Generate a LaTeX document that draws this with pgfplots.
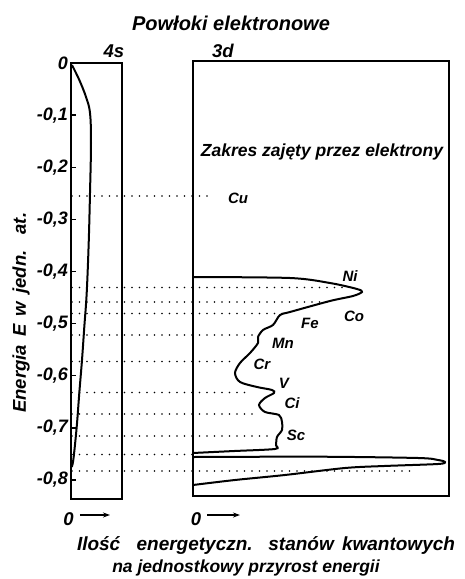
\documentclass[border=0pt]{standalone}
\usepackage{pgfplots}
\pgfplotsset{compat=1.18}
\usepackage{fontspec}
\setmainfont{Liberation Sans}
\usetikzlibrary{arrows.meta}
\newcommand{\fs}[1]{\fontsize{#1}{#1}\selectfont\bfseries\itshape}
\begin{document}
\begin{tikzpicture}[x=1pt,y=1pt]
\useasboundingbox (0,0) rectangle (464,579);
% ---------------- left panel: 4s ----------------
\begin{axis}[
  at={(71pt,80pt)}, anchor=south west,
  width=51pt, height=436pt, scale only axis,
  xmin=0, xmax=51, ymin=-0.8365, ymax=0,
  axis line style={line width=1.3pt},
  clip=false,
  ytick={0,-0.1,-0.2,-0.3,-0.4,-0.5,-0.6,-0.7,-0.8},
  yticklabels={{0},{-0,1},{-0,2},{-0,3},{-0,4},{-0,5},{-0,6},{-0,7},{-0,8}},
  ytick pos=left, tick align=inside, major tick length=5pt,
  ytick style={line width=1.3pt, black},
  yticklabel style={font=\fs{18}, inner sep=3pt},
  xtick={0}, xticklabels={0}, xtick style={draw=none},
  xticklabel style={font=\fs{18.5}, anchor=center, yshift=-20pt, xshift=-2.5pt},
  ylabel={\makebox[200pt][s]{Energia E w jedn. at.}},
  ylabel style={font=\fs{18.5}, at={(axis description cs:-0.98,0.427)}, anchor=center},
]
% dotted energy levels (run on across the gap into the 3d panel)
\pgfplotsset{lev/.style={black, line width=1.9pt, line cap=round, dash pattern=on 0pt off 7.5pt}}
\addplot[lev] coordinates {(1,-0.2552) (139,-0.2552)};
\addplot[lev] coordinates {(1,-0.4307) (274,-0.4307)};
\addplot[lev] coordinates {(1,-0.4585) (257,-0.4585)};
\addplot[lev] coordinates {(1,-0.4806) (212,-0.4806)};
\addplot[lev] coordinates {(1,-0.5218) (184,-0.5218)};
\addplot[lev] coordinates {(1,-0.5727) (164,-0.5727)};
\addplot[lev] coordinates {(1,-0.6321) (176,-0.6321)};
\addplot[lev] coordinates {(1,-0.6734) (186,-0.6734)};
\addplot[lev] coordinates {(1,-0.7156) (200,-0.7156)};
\addplot[lev] coordinates {(1,-0.7511) (122,-0.7511)};
\addplot[lev] coordinates {(1,-0.7827) (344,-0.7827)};
% 4s density curve
\addplot[black, line width=2pt, smooth, tension=0.6] coordinates {
 (1,-0.004) (8.3,-0.0326) (15,-0.0652) (19,-0.0959) (20,-0.1535)
 (19,-0.2494) (17.7,-0.3453) (15.7,-0.4413) (13.3,-0.5065) (11,-0.5698)
 (8.3,-0.6331) (5.7,-0.6983) (2.3,-0.7616) (0.5,-0.775)};
\draw[-{Stealth[length=7pt,width=5pt]}, line width=1.1pt] (axis cs:9,-0.8672) -- (axis cs:39,-0.8672);
\end{axis}
% ---------------- right panel: 3d ----------------
\begin{axis}[
  at={(193pt,83pt)}, anchor=south west,
  width=256pt, height=435pt, scale only axis,
  xmin=0, xmax=256, ymin=-0.8307, ymax=0.0038,
  axis line style={line width=1.3pt},
  clip=false,
  ytick=\empty,
  xtick={0}, xticklabels={0}, xtick style={draw=none},
  xticklabel style={font=\fs{18.5}, anchor=center, yshift=-23.5pt, xshift=3pt},
]
% 3d band
\addplot[black, line width=2pt, smooth, tension=0.5] coordinates {
 (0,-0.4106) (97,-0.4125) (137,-0.4221) (164,-0.4336) (169,-0.4393)
 (160,-0.4470) (137,-0.4566) (97,-0.4777) (87,-0.4835) (80,-0.5026)
 (70,-0.5122) (65,-0.5257) (65,-0.5372) (57,-0.5564) (47,-0.5755)
 (42,-0.5947) (47,-0.6120) (64,-0.6216) (79,-0.6273) (81,-0.6331)
 (72,-0.6427) (66,-0.6561) (72,-0.6695) (86,-0.6753) (89,-0.6887)
 (89,-0.7041) (84,-0.7175) (83,-0.7329) (82,-0.7405) (40,-0.7445) (0,-0.7482)};
% 4s band seen in the 3d panel
\addplot[black, line width=2pt, smooth, tension=0.5] coordinates {
 (0,-0.7559) (125,-0.7553) (225,-0.7578) (245,-0.7616) (252,-0.7655)
 (245,-0.7693) (192,-0.7731) (152,-0.7770) (92,-0.7904) (42,-0.8000) (0,-0.8096)};
\draw[-{Stealth[length=7pt,width=5pt]}, line width=1.1pt] (axis cs:14,-0.8672) -- (axis cs:47,-0.8672);
\node[font=\fs{17.5}] at (axis cs:129,-0.1707) {Zakres zajęty przez elektrony};
\node[font=\fs{15}] at (axis cs:45,-0.259) {Cu};
\node[font=\fs{15}] at (axis cs:157,-0.4086) {Ni};
\node[font=\fs{15}] at (axis cs:161,-0.4854) {Co};
\node[font=\fs{15}] at (axis cs:117,-0.4988) {Fe};
\node[font=\fs{15}] at (axis cs:90,-0.5372) {Mn};
\node[font=\fs{15}] at (axis cs:69,-0.5775) {Cr};
\node[font=\fs{15}] at (axis cs:91,-0.6140) {V};
\node[font=\fs{15}] at (axis cs:99,-0.6523) {Ci};
\node[font=\fs{15}] at (axis cs:103,-0.7137) {Sc};
\end{axis}
% titles and caption
\node[font=\fs{20}] at (231,556) {Powłoki elektronowe};
\node[font=\fs{18.5}] at (114,528) {4s};
\node[font=\fs{18.5}] at (223,528) {3d};
\node[font=\fs{19}] at (266,33) {\makebox[378pt][s]{Ilość\ \ energetyczn. stanów kwantowych}};
\node[font=\fs{17.5}] at (246,11) {na jednostkowy przyrost energii};
\end{tikzpicture}
\end{document}
